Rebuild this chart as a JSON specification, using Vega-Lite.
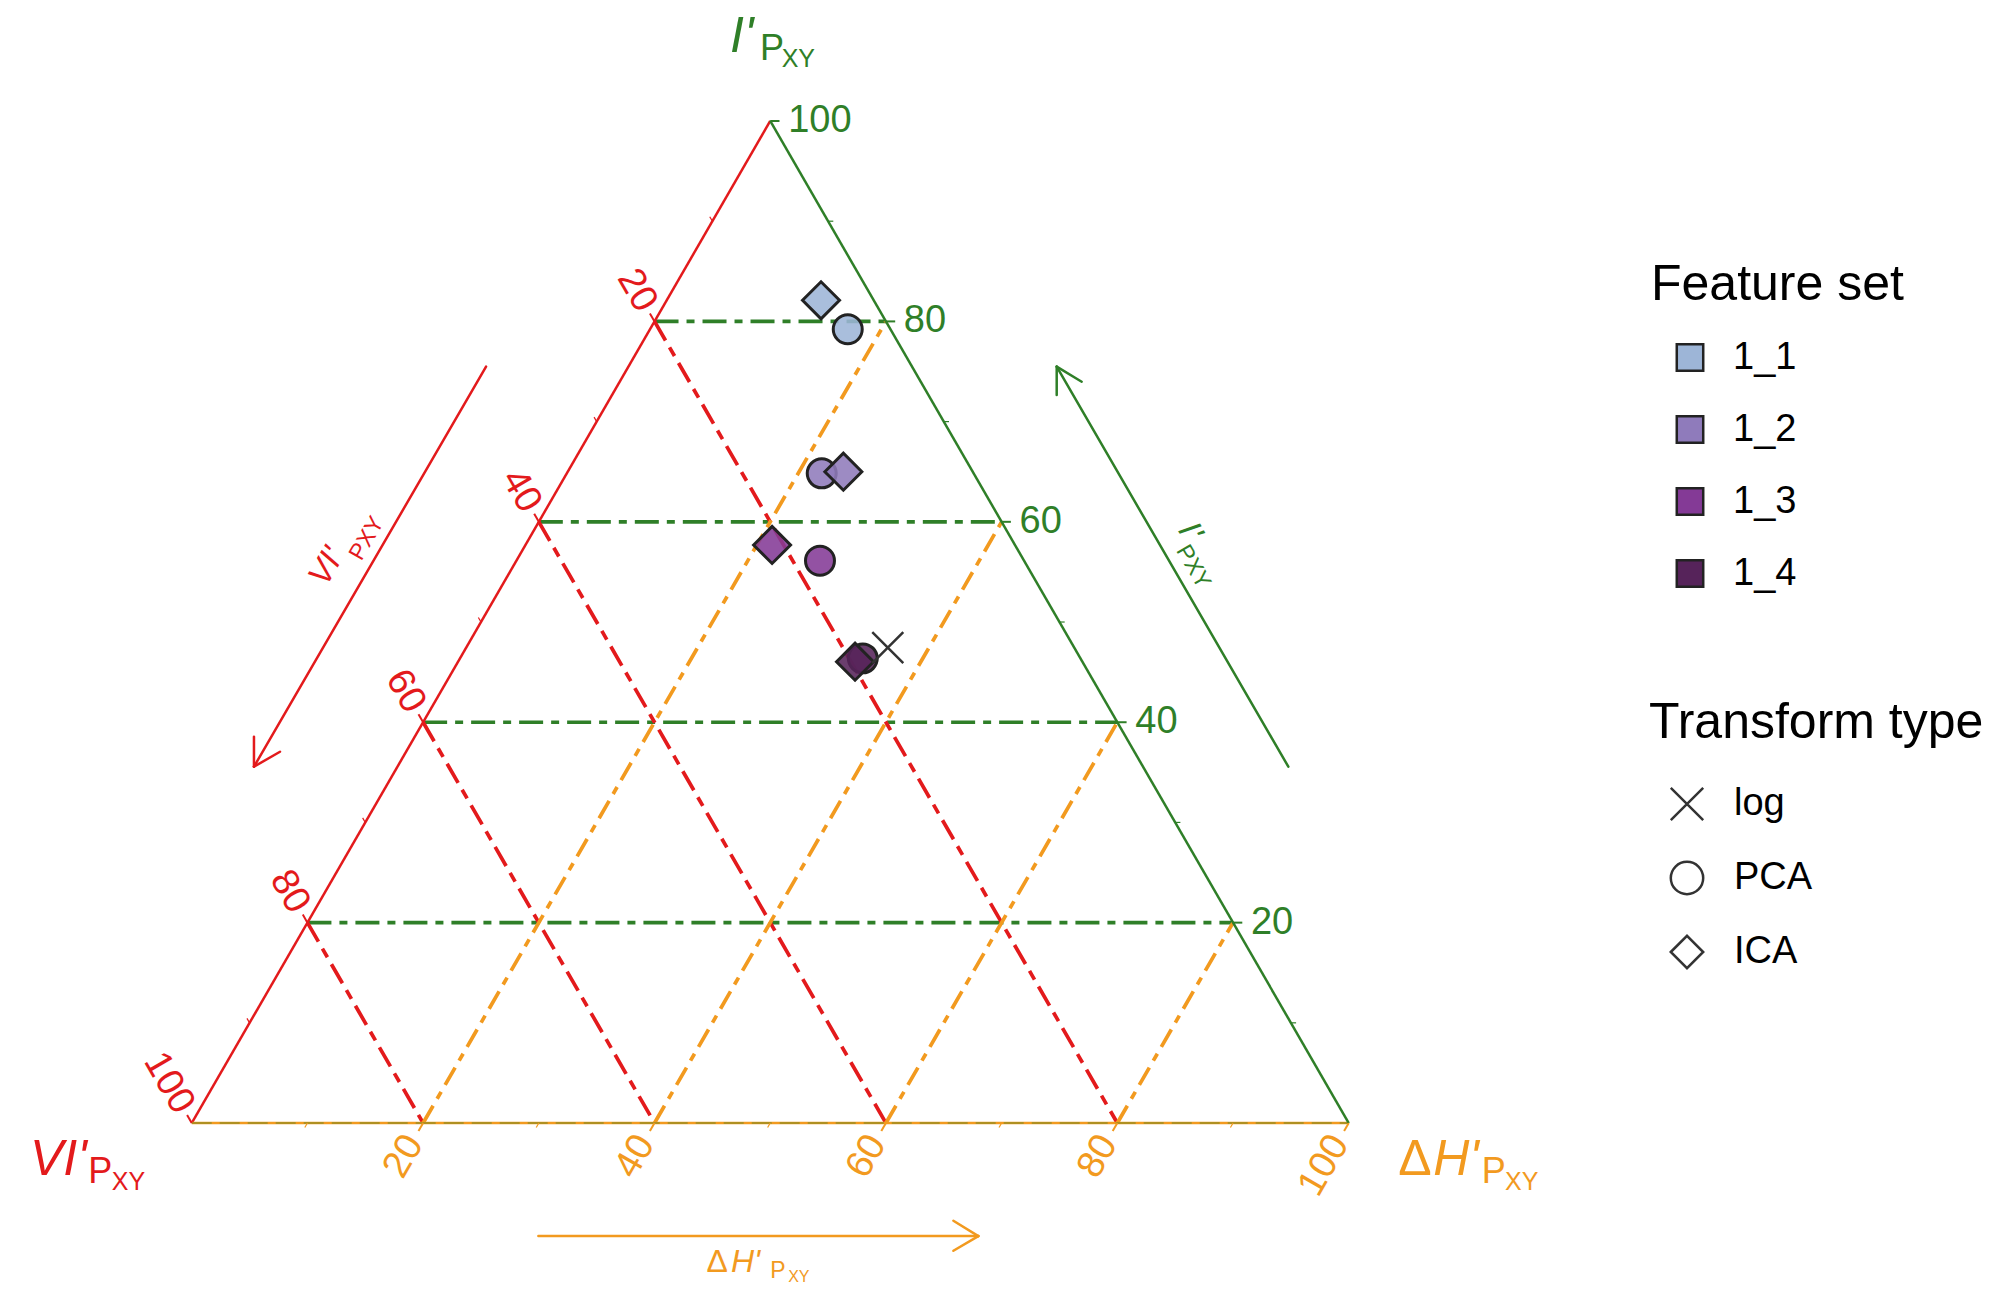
{
  "$schema": "https://vega.github.io/schema/vega-lite/v6.json",
  "width": 2005,
  "height": 1301,
  "autosize": "none",
  "padding": 0,
  "background": "white",
  "config": {"view": {"stroke": null}, "font": "Liberation Sans"},
  "datasets": {
    "points": [
      {"feature": "1_1", "transform": "PCA", "I": 79.2, "dH": 17.1, "VI": 3.7, "x": 56.70, "y": 68.60},
      {"feature": "1_2", "transform": "PCA", "I": 64.8, "dH": 22.0, "VI": 13.2, "x": 54.45, "y": 56.15},
      {"feature": "1_3", "transform": "PCA", "I": 56.1, "dH": 26.2, "VI": 17.7, "x": 54.30, "y": 48.60},
      {"feature": "1_4", "transform": "PCA", "I": 46.4, "dH": 34.8, "VI": 18.8, "x": 58.00, "y": 40.16},
      {"feature": "1_1", "transform": "ICA", "I": 82.1, "dH": 13.3, "VI": 4.6, "x": 54.39, "y": 71.11},
      {"feature": "1_2", "transform": "ICA", "I": 65.0, "dH": 23.8, "VI": 11.2, "x": 56.32, "y": 56.29},
      {"feature": "1_3", "transform": "ICA", "I": 57.7, "dH": 21.3, "VI": 21.0, "x": 50.16, "y": 49.96},
      {"feature": "1_4", "transform": "ICA", "I": 46.0, "dH": 34.3, "VI": 19.7, "x": 57.33, "y": 39.87},
      {"feature": "1_4", "transform": "log", "I": 47.4, "dH": 36.4, "VI": 16.2, "x": 60.16, "y": 41.08}
    ],
    "grid": [
      {"axis": "I", "value": 20, "x": 10, "y": 17.3205, "x2": 90, "y2": 17.3205},
      {"axis": "I", "value": 40, "x": 20, "y": 34.641, "x2": 80, "y2": 34.641},
      {"axis": "I", "value": 60, "x": 30, "y": 51.9615, "x2": 70, "y2": 51.9615},
      {"axis": "I", "value": 80, "x": 40, "y": 69.282, "x2": 60, "y2": 69.282},
      {"axis": "VI", "value": 20, "x": 40, "y": 69.282, "x2": 80, "y2": 0},
      {"axis": "VI", "value": 40, "x": 30, "y": 51.9615, "x2": 60, "y2": 0},
      {"axis": "VI", "value": 60, "x": 20, "y": 34.641, "x2": 40, "y2": 0},
      {"axis": "VI", "value": 80, "x": 10, "y": 17.3205, "x2": 20, "y2": 0},
      {"axis": "dH", "value": 20, "x": 20, "y": 0, "x2": 60, "y2": 69.282},
      {"axis": "dH", "value": 40, "x": 40, "y": 0, "x2": 70, "y2": 51.9615},
      {"axis": "dH", "value": 60, "x": 60, "y": 0, "x2": 80, "y2": 34.641},
      {"axis": "dH", "value": 80, "x": 80, "y": 0, "x2": 90, "y2": 17.3205}
    ],
    "grid0": [
      {"axis": "I", "value": 0, "x": 0, "y": 0, "x2": 100, "y2": 0}
    ],
    "edges": [
      {"axis": "VI", "x": 0, "y": 0, "x2": 50, "y2": 86.6025},
      {"axis": "dH", "x": 0, "y": 0, "x2": 100, "y2": 0},
      {"axis": "I", "x": 100, "y": 0, "x2": 50, "y2": 86.6025}
    ],
    "ticks": [
      {"axis": "I", "kind": "major", "x": 90, "y": 17.3205, "x2": 90.8, "y2": 17.3205},
      {"axis": "I", "kind": "major", "x": 80, "y": 34.641, "x2": 80.8, "y2": 34.641},
      {"axis": "I", "kind": "major", "x": 70, "y": 51.9615, "x2": 70.8, "y2": 51.9615},
      {"axis": "I", "kind": "major", "x": 60, "y": 69.282, "x2": 60.8, "y2": 69.282},
      {"axis": "I", "kind": "major", "x": 50, "y": 86.6025, "x2": 50.8, "y2": 86.6025},
      {"axis": "VI", "kind": "major", "x": 40, "y": 69.282, "x2": 39.6, "y2": 69.9748},
      {"axis": "VI", "kind": "major", "x": 30, "y": 51.9615, "x2": 29.6, "y2": 52.6543},
      {"axis": "VI", "kind": "major", "x": 20, "y": 34.641, "x2": 19.6, "y2": 35.3338},
      {"axis": "VI", "kind": "major", "x": 10, "y": 17.3205, "x2": 9.6, "y2": 18.0133},
      {"axis": "VI", "kind": "major", "x": 0, "y": 0, "x2": -0.4, "y2": 0.6928},
      {"axis": "dH", "kind": "major", "x": 20, "y": 0, "x2": 19.6, "y2": -0.6928},
      {"axis": "dH", "kind": "major", "x": 40, "y": 0, "x2": 39.6, "y2": -0.6928},
      {"axis": "dH", "kind": "major", "x": 60, "y": 0, "x2": 59.6, "y2": -0.6928},
      {"axis": "dH", "kind": "major", "x": 80, "y": 0, "x2": 79.6, "y2": -0.6928},
      {"axis": "dH", "kind": "major", "x": 100, "y": 0, "x2": 99.6, "y2": -0.6928},
      {"axis": "I", "kind": "minor", "x": 95, "y": 8.6603, "x2": 95.45, "y2": 8.6603},
      {"axis": "I", "kind": "minor", "x": 85, "y": 25.9808, "x2": 85.45, "y2": 25.9808},
      {"axis": "I", "kind": "minor", "x": 75, "y": 43.3013, "x2": 75.45, "y2": 43.3013},
      {"axis": "I", "kind": "minor", "x": 65, "y": 60.6218, "x2": 65.45, "y2": 60.6218},
      {"axis": "I", "kind": "minor", "x": 55, "y": 77.9423, "x2": 55.45, "y2": 77.9423},
      {"axis": "VI", "kind": "minor", "x": 45, "y": 77.9423, "x2": 44.775, "y2": 78.332},
      {"axis": "VI", "kind": "minor", "x": 35, "y": 60.6218, "x2": 34.775, "y2": 61.0115},
      {"axis": "VI", "kind": "minor", "x": 25, "y": 43.3013, "x2": 24.775, "y2": 43.691},
      {"axis": "VI", "kind": "minor", "x": 15, "y": 25.9808, "x2": 14.775, "y2": 26.3705},
      {"axis": "VI", "kind": "minor", "x": 5, "y": 8.6603, "x2": 4.775, "y2": 9.05},
      {"axis": "dH", "kind": "minor", "x": 10, "y": 0, "x2": 9.775, "y2": -0.3897},
      {"axis": "dH", "kind": "minor", "x": 30, "y": 0, "x2": 29.775, "y2": -0.3897},
      {"axis": "dH", "kind": "minor", "x": 50, "y": 0, "x2": 49.775, "y2": -0.3897},
      {"axis": "dH", "kind": "minor", "x": 70, "y": 0, "x2": 69.775, "y2": -0.3897},
      {"axis": "dH", "kind": "minor", "x": 90, "y": 0, "x2": 89.775, "y2": -0.3897}
    ],
    "arrows": [
      {"axis": "VI", "x": 25.44, "y": 65.37, "x2": 5.38, "y2": 30.80},
      {"axis": "VI", "x": 5.38, "y": 30.80, "x2": 5.38, "y2": 33.39},
      {"axis": "VI", "x": 5.38, "y": 30.80, "x2": 7.63, "y2": 32.09},
      {"axis": "I", "x": 94.78, "y": 30.80, "x2": 74.76, "y2": 65.37},
      {"axis": "I", "x": 74.76, "y": 65.37, "x2": 74.76, "y2": 62.92},
      {"axis": "I", "x": 74.76, "y": 65.37, "x2": 76.92, "y2": 64.07},
      {"axis": "dH", "x": 29.96, "y": -9.77, "x2": 67.99, "y2": -9.77},
      {"axis": "dH", "x": 67.99, "y": -9.77, "x2": 65.83, "y2": -8.44},
      {"axis": "dH", "x": 67.99, "y": -9.77, "x2": 65.83, "y2": -11.04}
    ],
    "ticklabels": [
      {"axis": "I", "label": "20", "x": 91.55, "y": 17.3205},
      {"axis": "I", "label": "40", "x": 81.55, "y": 34.641},
      {"axis": "I", "label": "60", "x": 71.55, "y": 51.9615},
      {"axis": "I", "label": "80", "x": 61.55, "y": 69.282},
      {"axis": "I", "label": "100", "x": 51.55, "y": 86.6025},
      {"axis": "VI", "label": "20", "x": 39.375, "y": 70.3645},
      {"axis": "VI", "label": "40", "x": 29.375, "y": 53.044},
      {"axis": "VI", "label": "60", "x": 19.375, "y": 35.7235},
      {"axis": "VI", "label": "80", "x": 9.375, "y": 18.403},
      {"axis": "VI", "label": "100", "x": -0.625, "y": 1.0825},
      {"axis": "dH", "label": "20", "x": 19.25, "y": -1.299},
      {"axis": "dH", "label": "40", "x": 39.25, "y": -1.299},
      {"axis": "dH", "label": "60", "x": 59.25, "y": -1.299},
      {"axis": "dH", "label": "80", "x": 79.25, "y": -1.299},
      {"axis": "dH", "label": "100", "x": 99.25, "y": -1.299}
    ],
    "labels": [
      {"part": "vertex_main", "axis": "I", "text": "I'", "x": 46.53, "y": 92.59},
      {"part": "vertex_main", "axis": "VI", "text": "VI'", "x": -13.98, "y": -4.49},
      {"part": "vertex_main", "axis": "dH", "text": "H'", "x": 107.3, "y": -4.49},
      {"part": "vertex_delta", "axis": "dH", "text": "Δ", "x": 104.29, "y": -4.49},
      {"part": "vertex_sub", "axis": "I", "text": "P", "x": 49.11, "y": 91.88},
      {"part": "vertex_sub", "axis": "VI", "text": "P", "x": -8.94, "y": -5.21},
      {"part": "vertex_sub", "axis": "dH", "text": "P", "x": 111.49, "y": -5.21},
      {"part": "vertex_subsub", "axis": "I", "text": "XY", "x": 50.99, "y": 91.30},
      {"part": "vertex_subsub", "axis": "VI", "text": "XY", "x": -6.91, "y": -5.79},
      {"part": "vertex_subsub", "axis": "dH", "text": "XY", "x": 113.51, "y": -5.79},
      {"part": "arrow_delta", "axis": "dH", "text": "Δ", "x": 44.5, "y": -12.85},
      {"part": "arrow_main_h", "axis": "dH", "text": "H'", "x": 46.6, "y": -12.85},
      {"part": "arrow_sub_h", "axis": "dH", "text": "P", "x": 50.0, "y": -13.42},
      {"part": "arrow_subsub_h", "axis": "dH", "text": "XY", "x": 51.55, "y": -13.75},
      {"part": "arrow_main_l", "axis": "VI", "text": "VI'", "x": 11.67, "y": 48.09},
      {"part": "arrow_sub_l", "axis": "VI", "text": "PXY", "x": 15.13, "y": 50.54},
      {"part": "arrow_main_r", "axis": "I", "text": "I'", "x": 86.28, "y": 51.11},
      {"part": "arrow_sub_r", "axis": "I", "text": "PXY", "x": 86.57, "y": 48.08}
    ]
  },
  "encoding": {
    "x": {"field": "x", "type": "quantitative", "scale": {"domain": [-16.57, 156.72], "nice": false, "zero": false}, "axis": null},
    "y": {"field": "y", "type": "quantitative", "scale": {"domain": [-15.38, 97.06], "nice": false, "zero": false}, "axis": null}
  },
  "layer": [
    {
      "data": {"name": "grid"},
      "mark": {"type": "rule", "strokeWidth": 3.7},
      "encoding": {
        "x2": {"field": "x2"},
        "y2": {"field": "y2"},
        "stroke": {"field": "axis", "type": "nominal", "scale": {"domain": ["I", "VI", "dH"], "range": ["#2F7F28", "#E31A1C", "#F29A1F"]}, "legend": null},
        "strokeDash": {"field": "axis", "type": "nominal", "scale": {"domain": ["I", "VI", "dH"], "range": [[24, 8, 8, 8], [22, 8, 10, 8], [20, 8, 8, 8]]}, "legend": null}
      }
    },
    {
      "data": {"name": "edges"},
      "mark": {"type": "rule", "strokeWidth": 2.5},
      "encoding": {
        "x2": {"field": "x2"},
        "y2": {"field": "y2"},
        "stroke": {"field": "axis", "type": "nominal", "legend": null}
      }
    },
    {
      "data": {"name": "grid0"},
      "mark": {"type": "rule", "strokeWidth": 1.5, "strokeDash": [20, 8], "opacity": 0.45},
      "encoding": {
        "x2": {"field": "x2"},
        "y2": {"field": "y2"},
        "stroke": {"field": "axis", "type": "nominal", "legend": null}
      }
    },
    {
      "data": {"name": "ticks"},
      "transform": [{"filter": "datum.kind === 'major'"}],
      "mark": {"type": "rule", "strokeWidth": 2},
      "encoding": {
        "x2": {"field": "x2"},
        "y2": {"field": "y2"},
        "stroke": {"field": "axis", "type": "nominal", "legend": null}
      }
    },
    {
      "data": {"name": "ticks"},
      "transform": [{"filter": "datum.kind === 'minor'"}],
      "mark": {"type": "rule", "strokeWidth": 1.2},
      "encoding": {
        "x2": {"field": "x2"},
        "y2": {"field": "y2"},
        "stroke": {"field": "axis", "type": "nominal", "legend": null}
      }
    },
    {
      "data": {"name": "arrows"},
      "mark": {"type": "rule", "strokeWidth": 2.5, "strokeCap": "round"},
      "encoding": {
        "x2": {"field": "x2"},
        "y2": {"field": "y2"},
        "stroke": {"field": "axis", "type": "nominal", "legend": null}
      }
    },
    {
      "data": {"name": "ticklabels"},
      "transform": [{"filter": "datum.axis === 'I'"}],
      "mark": {"type": "text", "align": "left", "baseline": "middle", "fontSize": 38, "font": "Liberation Sans", "color": "#2F7F28"},
      "encoding": {"text": {"field": "label"}}
    },
    {
      "data": {"name": "ticklabels"},
      "transform": [{"filter": "datum.axis === 'VI'"}],
      "mark": {"type": "text", "align": "right", "baseline": "middle", "angle": 60, "fontSize": 38, "font": "Liberation Sans", "color": "#E31A1C"},
      "encoding": {"text": {"field": "label"}}
    },
    {
      "data": {"name": "ticklabels"},
      "transform": [{"filter": "datum.axis === 'dH'"}],
      "mark": {"type": "text", "align": "right", "baseline": "middle", "angle": 300, "fontSize": 38, "font": "Liberation Sans", "color": "#F29A1F"},
      "encoding": {"text": {"field": "label"}}
    },
    {
      "data": {"name": "labels"},
      "transform": [{"filter": "datum.part === 'vertex_main'"}],
      "mark": {"type": "text", "align": "left", "baseline": "alphabetic", "fontSize": 50, "fontStyle": "italic", "font": "Liberation Sans"},
      "encoding": {"text": {"field": "text"}, "color": {"field": "axis", "type": "nominal", "scale": {"domain": ["I", "VI", "dH"], "range": ["#2F7F28", "#E31A1C", "#F29A1F"]}, "legend": null}}
    },
    {
      "data": {"name": "labels"},
      "transform": [{"filter": "datum.part === 'vertex_delta'"}],
      "mark": {"type": "text", "align": "left", "baseline": "alphabetic", "fontSize": 50, "font": "Liberation Sans"},
      "encoding": {"text": {"field": "text"}, "color": {"field": "axis", "type": "nominal", "legend": null}}
    },
    {
      "data": {"name": "labels"},
      "transform": [{"filter": "datum.part === 'vertex_sub'"}],
      "mark": {"type": "text", "align": "left", "baseline": "alphabetic", "fontSize": 36, "font": "Liberation Sans"},
      "encoding": {"text": {"field": "text"}, "color": {"field": "axis", "type": "nominal", "legend": null}}
    },
    {
      "data": {"name": "labels"},
      "transform": [{"filter": "datum.part === 'vertex_subsub'"}],
      "mark": {"type": "text", "align": "left", "baseline": "alphabetic", "fontSize": 25, "font": "Liberation Sans"},
      "encoding": {"text": {"field": "text"}, "color": {"field": "axis", "type": "nominal", "legend": null}}
    },
    {
      "data": {"name": "labels"},
      "transform": [{"filter": "datum.part === 'arrow_delta'"}],
      "mark": {"type": "text", "align": "left", "baseline": "alphabetic", "fontSize": 32, "font": "Liberation Sans"},
      "encoding": {"text": {"field": "text"}, "color": {"field": "axis", "type": "nominal", "legend": null}}
    },
    {
      "data": {"name": "labels"},
      "transform": [{"filter": "datum.part === 'arrow_main_h'"}],
      "mark": {"type": "text", "align": "left", "baseline": "alphabetic", "fontSize": 32, "fontStyle": "italic", "font": "Liberation Sans"},
      "encoding": {"text": {"field": "text"}, "color": {"field": "axis", "type": "nominal", "legend": null}}
    },
    {
      "data": {"name": "labels"},
      "transform": [{"filter": "datum.part === 'arrow_sub_h'"}],
      "mark": {"type": "text", "align": "left", "baseline": "alphabetic", "fontSize": 23, "font": "Liberation Sans"},
      "encoding": {"text": {"field": "text"}, "color": {"field": "axis", "type": "nominal", "legend": null}}
    },
    {
      "data": {"name": "labels"},
      "transform": [{"filter": "datum.part === 'arrow_subsub_h'"}],
      "mark": {"type": "text", "align": "left", "baseline": "alphabetic", "fontSize": 16, "font": "Liberation Sans"},
      "encoding": {"text": {"field": "text"}, "color": {"field": "axis", "type": "nominal", "legend": null}}
    },
    {
      "data": {"name": "labels"},
      "transform": [{"filter": "datum.part === 'arrow_main_l'"}],
      "mark": {"type": "text", "align": "center", "baseline": "middle", "angle": 300, "fontSize": 33, "fontStyle": "italic", "font": "Liberation Sans"},
      "encoding": {"text": {"field": "text"}, "color": {"field": "axis", "type": "nominal", "legend": null}}
    },
    {
      "data": {"name": "labels"},
      "transform": [{"filter": "datum.part === 'arrow_sub_l'"}],
      "mark": {"type": "text", "align": "center", "baseline": "middle", "angle": 300, "fontSize": 23, "font": "Liberation Sans"},
      "encoding": {"text": {"field": "text"}, "color": {"field": "axis", "type": "nominal", "legend": null}}
    },
    {
      "data": {"name": "labels"},
      "transform": [{"filter": "datum.part === 'arrow_main_r'"}],
      "mark": {"type": "text", "align": "center", "baseline": "middle", "angle": 60, "fontSize": 33, "fontStyle": "italic", "font": "Liberation Sans"},
      "encoding": {"text": {"field": "text"}, "color": {"field": "axis", "type": "nominal", "legend": null}}
    },
    {
      "data": {"name": "labels"},
      "transform": [{"filter": "datum.part === 'arrow_sub_r'"}],
      "mark": {"type": "text", "align": "center", "baseline": "middle", "angle": 60, "fontSize": 23, "font": "Liberation Sans"},
      "encoding": {"text": {"field": "text"}, "color": {"field": "axis", "type": "nominal", "legend": null}}
    },
    {
      "data": {"name": "points"},
      "transform": [{"filter": "datum.transform === 'PCA'"}],
      "mark": {"type": "point", "filled": true, "size": 840, "stroke": "#222222", "strokeWidth": 3, "fillOpacity": 0.88, "strokeOpacity": 1, "opacity": 1},
      "encoding": {
        "fill": {"field": "feature", "type": "nominal", "scale": {"domain": ["1_1", "1_2", "1_3", "1_4"], "range": ["#9db5d7", "#8f7bbb", "#843a96", "#56235a"]},
          "legend": {"title": "Feature set", "orient": "none", "legendX": 1651, "legendY": 260, "direction": "vertical", "padding": 0,
            "symbolType": "square", "symbolSize": 700, "symbolStrokeColor": "#222222", "symbolStrokeWidth": 2.5, "symbolOffset": 20,
            "labelOffset": 24, "rowPadding": 34, "titlePadding": 28.5, "titleFontSize": 50, "titleFontWeight": "normal", "titleColor": "black", "titleLimit": 600,
            "labelFontSize": 38, "labelColor": "black", "titleFont": "Liberation Sans", "labelFont": "Liberation Sans",
            "encode": {"symbols": {"update": {"fillOpacity": {"value": 0.95}, "stroke": {"value": "#222222"}, "strokeWidth": {"value": 2.5}, "shape": {"value": "square"}}}}}},
        "shape": {"field": "transform", "type": "nominal", "scale": {"domain": ["log", "PCA", "ICA"], "range": ["M-1,-1L1,1M-1,1L1,-1", "circle", "diamond"]},
          "legend": {"title": "Transform type", "orient": "none", "legendX": 1649, "legendY": 698, "direction": "vertical", "padding": 0,
            "symbolSize": 1050, "symbolOffset": 19, "labelOffset": 28, "rowPadding": 30, "titlePadding": 37, "titleFontSize": 50, "titleFontWeight": "normal", "titleColor": "black", "titleLimit": 600,
            "labelFontSize": 38, "labelColor": "black", "titleFont": "Liberation Sans", "labelFont": "Liberation Sans",
            "symbolFillColor": "white", "symbolStrokeColor": "#333333", "symbolStrokeWidth": 2.5,
            "encode": {"symbols": {"enter": {"fill": {"value": "white"}, "fillOpacity": {"value": 0}}, "update": {"fill": {"value": "white"}, "fillOpacity": {"value": 0}, "stroke": {"value": "#333333"}, "strokeWidth": {"value": 2.5}, "opacity": {"value": 1}, "strokeOpacity": {"value": 1}}}}}}
      }
    },
    {
      "data": {"name": "points"},
      "transform": [{"filter": "datum.transform === 'ICA'"}],
      "mark": {"type": "point", "filled": true, "size": 1369, "stroke": "#222222", "strokeWidth": 3, "fillOpacity": 0.88, "strokeOpacity": 1, "opacity": 1},
      "encoding": {
        "fill": {"field": "feature", "type": "nominal"},
        "shape": {"field": "transform", "type": "nominal"}
      }
    },
    {
      "data": {"name": "points"},
      "transform": [{"filter": "datum.transform === 'log'"}],
      "mark": {"type": "point", "filled": true, "size": 961, "stroke": "#333333", "strokeWidth": 2.5, "fillOpacity": 0.88, "strokeOpacity": 1, "opacity": 1},
      "encoding": {
        "fill": {"field": "feature", "type": "nominal"},
        "shape": {"field": "transform", "type": "nominal"}
      }
    }
  ]
}
